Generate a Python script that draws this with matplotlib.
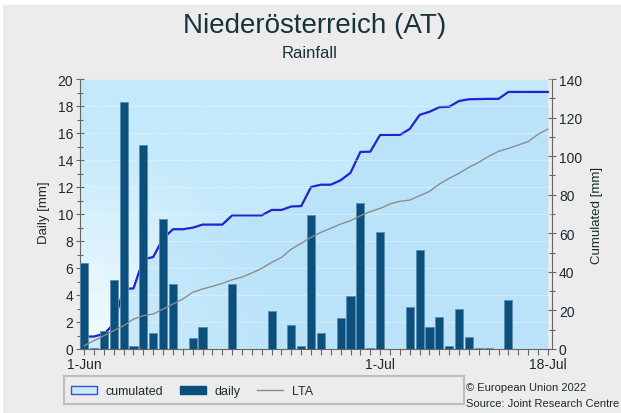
import numpy as np
import matplotlib
matplotlib.use("Agg")
import matplotlib.pyplot as plt
from matplotlib.patches import Rectangle, Patch
from matplotlib.lines import Line2D
from matplotlib.ticker import MultipleLocator, FixedLocator
from matplotlib.colors import to_rgb

plt.rcParams['font.family'] = ['Liberation Sans', 'DejaVu Sans']

# ---------------- data ----------------
title = "Niederösterreich (AT)"
subtitle = "Rainfall"
days = list(range(48))                      # 1-Jun .. 18-Jul
tick_days = [0, 30, 47]
tick_labels = ["1-Jun", "1-Jul", "18-Jul"]

daily = [6.4, 0.1, 1.3, 5.1, 18.3, 0.2, 15.1, 1.2, 9.6, 4.8,
         0.0, 0.8, 1.6, 0.0, 0.0, 4.8, 0.0, 0.0, 0.0, 2.8,
         0.0, 1.8, 0.2, 9.9, 1.2, 0.0, 2.3, 3.9, 10.8, 0.1,
         8.7, 0.0, 0.0, 3.1, 7.3, 1.6, 2.4, 0.2, 3.0, 0.9,
         0.1, 0.1, 0.0, 3.6, 0.0, 0.0, 0.0, 0.0]

cumulated = [6.4, 6.5, 7.8, 12.9, 31.2, 31.4, 46.5, 47.7, 57.3, 62.1,
             62.1, 62.9, 64.5, 64.5, 64.5, 69.3, 69.3, 69.3, 69.3, 72.1,
             72.1, 73.9, 74.1, 84.0, 85.2, 85.2, 87.5, 91.4, 102.2, 102.3,
             111.0, 111.0, 111.0, 114.1, 121.4, 123.0, 125.4, 125.6, 128.6, 129.5,
             129.6, 129.7, 129.7, 133.3, 133.3, 133.3, 133.3, 133.3]

lta = [1.7, 4.3, 6.9, 9.5, 12.1, 15.5, 17.3, 18.1, 20.7, 23.3,
       25.9, 29.4, 31.1, 32.5, 34.0, 35.9, 37.3, 39.4, 41.8, 44.9,
       47.5, 51.8, 54.8, 57.9, 60.5, 62.6, 64.8, 66.5, 69.1, 71.2,
       72.9, 75.2, 76.6, 77.2, 79.5, 81.7, 85.5, 88.5, 91.1, 94.2,
       96.8, 99.9, 102.5, 104.0, 105.8, 107.5, 111.3, 114.0]

# ---------------- style ----------------
W, H = 621, 414
BG = '#ececec'
TXT = '#1c2b30'
TITLE_C = '#17333b'
SPINE = '#666666'
BAR = '#0b4f7c'
CUM = '#2222d0'
LTA_C = '#8c8c8c'

fig = plt.figure(figsize=(W / 100, H / 100), dpi=100, facecolor='white')
fig.patches.append(Rectangle((3 / W, 0), 1, 1 - 6 / H, transform=fig.transFigure,
                             facecolor=BG, edgecolor='none', zorder=-10))

rect = [80 / W, 1 - 350 / H, 472 / W, 270 / H]
axd = fig.add_axes(rect)
axc = axd.twinx()
axl = axd.twinx()
axc.set_zorder(1)
axd.set_zorder(2)
axl.set_zorder(3)
axd.patch.set_visible(False)
axc.patch.set_visible(False)
axl.patch.set_visible(False)

xlim = (-0.42, 47.42)

# background gradient (pale at bottom-left, light blue elsewhere)
ny, nx = 200, 300
yy, xx = np.mgrid[0:1:ny * 1j, 0:1:nx * 1j]
r = np.clip(np.sqrt((xx / 0.45) ** 2 + (yy / 0.8) ** 2), 0, 1)
c0 = np.array([0.965, 0.988, 1.0])
c1 = np.array(to_rgb('#c3e9fb'))
img = c0 + (c1 - c0) * r[..., None]
axc.imshow(img, extent=(xlim[0], 47.0, 0, 140), origin='lower', aspect='auto',
           zorder=0, interpolation='bilinear')

# cumulated area + line
axc.fill_between(days, cumulated, 0, color='#b5e0f9', alpha=0.6, lw=0, zorder=1)
axc.plot(days, cumulated, color=CUM, lw=1.6, zorder=2, solid_joinstyle='round')

# daily bars
axd.set_axisbelow(True)
axd.grid(True, which='major', axis='y', color='white', alpha=0.3, lw=0.8)
axd.bar(days, daily, width=0.83, color=BAR, edgecolor='#5b8db3', linewidth=0.6, zorder=3)

# LTA line
axl.plot(days, lta, color=LTA_C, lw=1.0)
axl.axis('off')

for a in (axd, axc, axl):
    a.set_xlim(*xlim)
axd.set_ylim(0, 20)
axc.set_ylim(0, 140)
axl.set_ylim(0, 140)

# spines
for s in ('top', 'right'):
    axd.spines[s].set_visible(False)
for s in ('left', 'bottom'):
    axd.spines[s].set_color(SPINE)
for s in ('top', 'left', 'bottom'):
    axc.spines[s].set_visible(False)
axc.spines['right'].set_color(SPINE)

# ticks
axd.xaxis.set_major_locator(FixedLocator(tick_days))
axd.set_xticklabels(tick_labels)
axd.xaxis.set_minor_locator(FixedLocator(days))
axd.tick_params(axis='x', which='both', direction='out', length=4, width=0.8,
                color=SPINE, labelsize=10, labelcolor=TXT, pad=2)
axd.yaxis.set_major_locator(MultipleLocator(2))
axd.yaxis.set_minor_locator(MultipleLocator(1))
axd.tick_params(axis='y', which='major', direction='inout', length=6, width=0.8,
                color=SPINE, labelsize=10, labelcolor=TXT, pad=2)
axd.tick_params(axis='y', which='minor', direction='inout', length=4, width=0.8, color=SPINE)
axc.yaxis.set_major_locator(MultipleLocator(20))
axc.yaxis.set_minor_locator(MultipleLocator(10))
axc.tick_params(axis='y', which='major', direction='inout', length=6, width=0.8,
                color=SPINE, labelsize=10, labelcolor=TXT, pad=2)
axc.tick_params(axis='y', which='minor', direction='inout', length=4, width=0.8, color=SPINE)

# axis labels
fig.text(44 / W, 1 - 213 / H, 'Daily [mm]', rotation=90, ha='center', va='center',
         fontsize=9.5, color=TXT)
fig.text(597 / W, 1 - 215 / H, 'Cumulated [mm]', rotation=90, ha='center', va='center',
         fontsize=9.5, color=TXT)

# titles
fig.text(315 / W, 1 - 33 / H, title, ha='center', va='baseline', fontsize=20, color=TITLE_C)
fig.text(310 / W, 1 - 58 / H, subtitle, ha='center', va='baseline', fontsize=12, color=TITLE_C)

# legend
fig.patches.append(Rectangle((64 / W, 1 - 405 / H), 400 / W, 28 / H, transform=fig.transFigure,
                             facecolor=BG, edgecolor='#bdbdbd', lw=1.5, zorder=1))
handles = [Patch(facecolor='#c9ebfd', edgecolor='#3a4fd0', lw=1),
           Patch(facecolor=BAR, edgecolor=BAR),
           Line2D([], [], color=LTA_C, lw=1)]
leg = fig.legend(handles, ['cumulated', 'daily', 'LTA'], loc='center left',
                 bbox_to_anchor=(71 / W, 1 - 392 / H), ncol=3, frameon=False, fontsize=9,
                 handlelength=2.1, handleheight=0.6, handletextpad=0.7, columnspacing=1.3,
                 borderaxespad=0, borderpad=0)
for t in leg.get_texts():
    t.set_color(TXT)

# footer
fig.text(466 / W, 1 - 388 / H, '© European Union 2022', ha='left', va='center',
         fontsize=8, color=TXT)
fig.text(466 / W, 1 - 404 / H, 'Source: Joint Research Centre', ha='left', va='center',
         fontsize=8, color=TXT)

fig.savefig('out.png', dpi=100, facecolor=fig.get_facecolor())
